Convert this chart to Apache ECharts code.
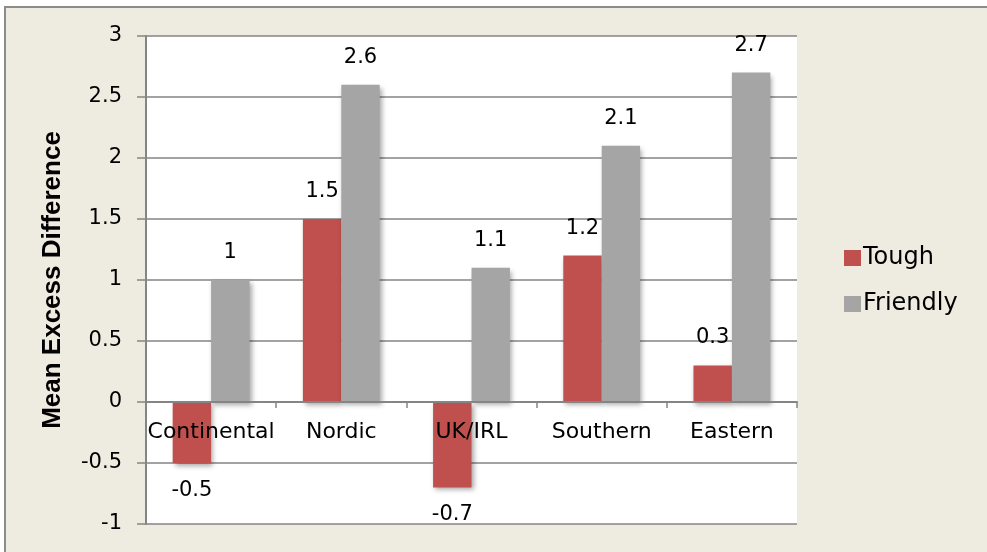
<!DOCTYPE html>
<html>
<head>
<meta charset="utf-8">
<style>
  html, body { margin: 0; padding: 0; background: #ffffff; }
  #chart { width: 987px; height: 552px; }
</style>
<script src="https://cdn.jsdelivr.net/npm/echarts@6/dist/echarts.min.js"></script>
</head>
<body>
<div id="chart"></div>
<script>
// Mean excess difference by region, tough vs friendly
const regions = ['Continental', 'Nordic', 'UK/IRL', 'Southern', 'Eastern'];
const tough = [-0.5, 1.5, -0.7, 1.2, 0.3];
const friendly = [1, 2.6, 1.1, 2.1, 2.7];
const yTicks = { min: -1, max: 3, interval: 0.5 };

const FONT = 'DejaVu Sans';
const GRID_COLOR = '#858585';

const W = 987, H = 552;
const gridBox = { left: 146, right: 190, top: 36, bottom: 28 };
// Shift the category axis up so it runs along the zero line
const plotHeight = H - gridBox.top - gridBox.bottom;
const zeroOffset = -plotHeight * (0 - yTicks.min) / (yTicks.max - yTicks.min);

// Value labels sit above positive bars and below negative ones
function withLabels(values) {
  return values.map(v => ({
    value: v,
    label: { position: v < 0 ? 'bottom' : 'top' }
  }));
}

const barStyle = color => ({
  color: color,
  shadowColor: 'rgba(0,0,0,0.35)',
  shadowBlur: 5,
  shadowOffsetX: 2,
  shadowOffsetY: 3
});

const chart = echarts.init(document.getElementById('chart'), null, { renderer: 'canvas' });

chart.setOption({
  animation: false,
  backgroundColor: '#ffffff',
  textStyle: { fontFamily: FONT, color: '#000' },
  graphic: [{
    type: 'rect',
    z: -10,
    silent: true,
    shape: { x: 5, y: 7, width: 1000, height: 560 },
    style: { fill: '#EEEBE0', stroke: '#8c8c8c', lineWidth: 2 }
  }],
  grid: Object.assign({ show: true, backgroundColor: '#ffffff', borderWidth: 0 }, gridBox),
  legend: {
    orient: 'vertical',
    left: 839,
    top: 241,
    itemWidth: 17,
    itemHeight: 16,
    itemGap: 22,
    icon: 'rect',
    textStyle: { fontFamily: FONT, fontSize: 24, color: '#000', lineHeight: 24, padding: [0, 0, 0, -3] },
    data: ['Tough', 'Friendly']
  },
  xAxis: {
    type: 'category',
    data: regions,
    z: 10,
    offset: zeroOffset,
    axisLine: { onZero: false, lineStyle: { color: GRID_COLOR, width: 2 } },
    axisTick: { show: true, length: 6, alignWithLabel: false, lineStyle: { color: GRID_COLOR, width: 1.5 } },
    axisLabel: { interval: 0, margin: 19, fontSize: 22, fontFamily: FONT, color: '#000' }
  },
  yAxis: {
    type: 'value',
    min: yTicks.min,
    max: yTicks.max,
    interval: yTicks.interval,
    name: 'Mean Excess Difference',
    nameLocation: 'middle',
    nameGap: 80,
    nameRotate: 90,
    nameTextStyle: { fontFamily: 'Liberation Sans', fontWeight: 'bold', fontSize: 26, color: '#000' },
    axisLine: { show: true, lineStyle: { color: GRID_COLOR, width: 2 } },
    axisTick: { show: true, length: 9, lineStyle: { color: GRID_COLOR, width: 1.5 } },
    axisLabel: { margin: 24, fontSize: 21, fontFamily: FONT, color: '#000' },
    splitLine: { show: true, lineStyle: { color: GRID_COLOR, width: 1.5 } }
  },
  series: [
    {
      name: 'Tough',
      type: 'bar',
      data: withLabels(tough),
      barGap: '0%',
      barCategoryGap: '41%',
      itemStyle: barStyle('#C0504D'),
      label: { show: true, distance: 17, fontSize: 21, fontFamily: FONT, color: '#000' }
    },
    {
      name: 'Friendly',
      type: 'bar',
      data: withLabels(friendly),
      barGap: '0%',
      barCategoryGap: '41%',
      itemStyle: barStyle('#A5A5A5'),
      label: { show: true, distance: 17, fontSize: 21, fontFamily: FONT, color: '#000' }
    }
  ]
});
</script>
</body>
</html>
